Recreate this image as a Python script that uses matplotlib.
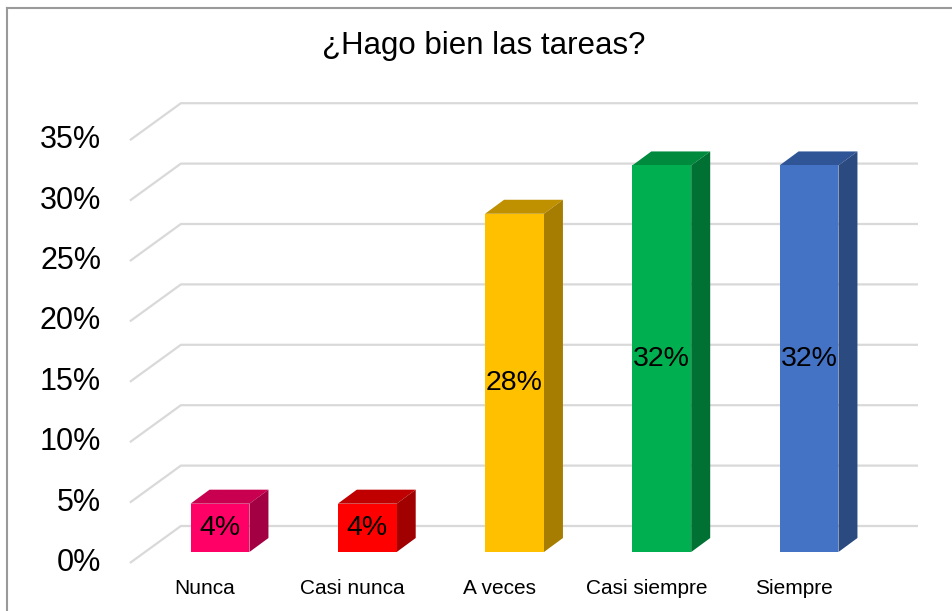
import matplotlib
matplotlib.use("Agg")
import matplotlib.pyplot as plt
from matplotlib.patches import Polygon
from matplotlib.lines import Line2D
import numpy as np

plt.rcParams['font.family'] = ['Liberation Sans', 'DejaVu Sans']

# Data
title = "¿Hago bien las tareas?"
categories = ["Nunca", "Casi nunca", "A veces", "Casi siempre", "Siempre"]
values = [4, 4, 28, 32, 32]
y_ticks = [0, 5, 10, 15, 20, 25, 30, 35]
y_tick_labels = ["0%", "5%", "10%", "15%", "20%", "25%", "30%", "35%"]

front_colors = ["#FF0066", "#FF0000", "#FFC000", "#00B050", "#4472C4"]
top_colors = ["#C8004F", "#C00000", "#BF9000", "#008A3E", "#2F5597"]
side_colors = ["#A30044", "#A00000", "#A67D00", "#007132", "#2B4A80"]

W, H = 952, 611
fig = plt.figure(figsize=(W / 100, H / 100), dpi=100)
ax = fig.add_axes([0, 0, 1, 1])

# Axis scaling: one category step = 147.25 px, 1 % = 12.08 px, baseline at y=552 px
step_px, pct_px, x0_px, base_px = 147.25, 12.08, 220.0, 552.0
ax.set_xlim(-x0_px / step_px, (W - x0_px) / step_px)
ax.set_ylim((base_px - H) / pct_px, base_px / pct_px)
ax.axis("off")

# 3-D projection offsets (category units, percent units)
slope = 1.378  # px of x shift per px of y shift
back_dy = 26 / pct_px
back_dx = 26 * slope / step_px
front_dy = -11 / pct_px
front_dx = -11 * slope / step_px
bar_dy = 14 / pct_px
bar_dx = 19 / step_px
bar_w = 0.40
wall_left = -0.509  # left edge of the floor at bar plane
wall_right = (918 - x0_px) / step_px

# Gridlines: diagonal on the side wall, horizontal on the back wall
for t in y_ticks:
    xs = [wall_left + front_dx, wall_left + back_dx, wall_right]
    ys = [t + front_dy, t + back_dy, t + back_dy]
    ax.plot(xs, ys, color="#D9D9D9", lw=1.6, solid_capstyle="butt", zorder=1)

# Y tick labels on the front edge
for t, lab in zip(y_ticks, y_tick_labels):
    ax.text((101 - x0_px) / step_px, t + front_dy, lab, ha="right", va="center",
            fontsize=22, color="#000000", zorder=5)

# Bars: front faces, then top and side faces
idx = np.arange(len(categories))
ax.bar(idx, values, width=bar_w, color=front_colors, zorder=3, linewidth=0)
for i, v in enumerate(values):
    xl, xr = i - bar_w / 2, i + bar_w / 2
    top = Polygon([(xl, v), (xr, v), (xr + bar_dx, v + bar_dy), (xl + bar_dx, v + bar_dy)],
                  closed=True, facecolor=top_colors[i], edgecolor="none", zorder=2)
    side = Polygon([(xr, 0), (xr, v), (xr + bar_dx, v + bar_dy), (xr + bar_dx, bar_dy)],
                   closed=True, facecolor=side_colors[i], edgecolor="none", zorder=2)
    ax.add_patch(top)
    ax.add_patch(side)
    ax.text(i, v / 2, f"{v}%", ha="center", va="center", fontsize=20.5,
            color="#000000", zorder=6)

# Category labels along the front edge
for i, c in enumerate(categories):
    ax.text(i + front_dx, (base_px - 588) / pct_px, c, ha="center", va="center",
            fontsize=15, color="#000000", zorder=5)

# Title
fig.text(484 / W, 1 - 46 / H, title, ha="center", va="center", fontsize=22.5, color="#000000")

# Chart frame (left and top edges)
fig.add_artist(Line2D([7 / W, 7 / W], [0, 1 - 8 / H], transform=fig.transFigure,
                      color="#9A9A9A", lw=1.5))
fig.add_artist(Line2D([7 / W, 1], [1 - 8 / H, 1 - 8 / H], transform=fig.transFigure,
                      color="#9A9A9A", lw=1.5))

fig.savefig("out.png", dpi=100)
